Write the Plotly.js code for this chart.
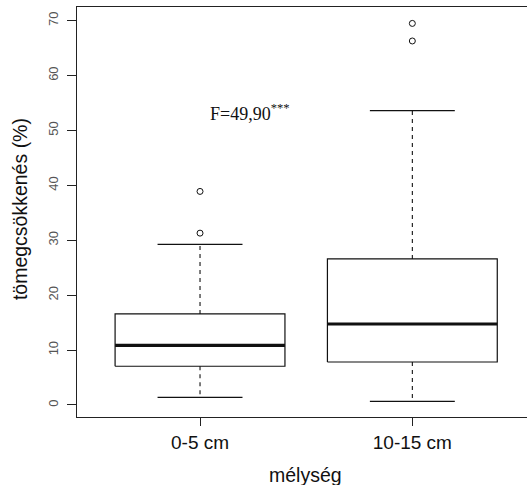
<!DOCTYPE html>
<html>
<head>
<meta charset="utf-8">
<script src="https://cdn.plot.ly/plotly-3.0.1.min.js"></script>
<style>html,body{margin:0;padding:0;background:#fff;}#chart{width:527px;height:485px;}</style>
</head>
<body>
<div id="chart"></div>
<script>
// ---- data ----
const categories = ['0-5 cm', '10-15 cm'];
const positions = [1, 2];
const q1 = [7.05, 7.83];
const medians = [10.87, 14.75];
const q3 = [16.58, 26.6];
const whiskerLow = [1.40, 0.67];
const whiskerHigh = [29.27, 53.6];
const outliers = [[31.3, 38.9], [66.3, 69.5]];
const yTicks = [0, 10, 20, 30, 40, 50, 60, 70];
const statLabel = 'F=49,90<sup>***</sup>';
const xTitle = 'mélység';
const yTitle = 'tömegcsökkenés (%)';

// ---- styles ----
const boxHalf = 0.4, capHalf = 0.2;
const ink = '#111';
const traces = [];
positions.forEach((p, i) => {
  traces.push({x: [p - boxHalf, p + boxHalf, p + boxHalf, p - boxHalf, p - boxHalf],
    y: [q1[i], q1[i], q3[i], q3[i], q1[i]], mode: 'lines',
    line: {color: ink, width: 1.2}, hoverinfo: 'skip'});
  traces.push({x: [p - boxHalf, p + boxHalf], y: [medians[i], medians[i]], mode: 'lines',
    line: {color: ink, width: 3.2}, hoverinfo: 'skip'});
  traces.push({x: [p, p, null, p, p], y: [q3[i], whiskerHigh[i], null, q1[i], whiskerLow[i]],
    mode: 'lines', line: {color: ink, width: 1.1, dash: '4px,4px'}, hoverinfo: 'skip'});
  traces.push({x: [p - capHalf, p + capHalf, null, p - capHalf, p + capHalf],
    y: [whiskerHigh[i], whiskerHigh[i], null, whiskerLow[i], whiskerLow[i]],
    mode: 'lines', line: {color: ink, width: 1.2}, hoverinfo: 'skip'});
  traces.push({x: outliers[i].map(() => p), y: outliers[i], mode: 'markers',
    marker: {symbol: 'circle-open', size: 6, color: ink, line: {width: 1}}, hoverinfo: 'skip'});
});

const layout = {
  width: 527, height: 485,
  margin: {l: 77, r: 0, t: 7, b: 68},
  paper_bgcolor: '#fff', plot_bgcolor: '#fff',
  showlegend: false,
  font: {family: 'Liberation Sans, Arial, sans-serif', color: '#111'},
  xaxis: {range: [0.4206, 2.540], tickvals: positions, ticktext: categories,
    showgrid: false, zeroline: false, showline: true, mirror: true, linecolor: '#222', linewidth: 1.2,
    ticks: 'outside', ticklen: 8, tickcolor: '#222', tickwidth: 1,
    tickfont: {size: 19, color: '#111'}, fixedrange: true},
  yaxis: {range: [-2.19, 72.49], tickvals: yTicks, ticktext: yTicks.map(String),
    showgrid: false, zeroline: false, showline: true, linecolor: '#222', linewidth: 1.2,
    ticks: 'outside', ticklen: 9, tickcolor: '#222', tickwidth: 1, tickangle: -90,
    ticklabelstandoff: 4,
    tickfont: {size: 13, color: '#555'}, fixedrange: true},
  annotations: [
    {xref: 'x', yref: 'y', x: 1.235, y: 53.2, text: statLabel, showarrow: false,
     font: {family: 'Liberation Serif, Times New Roman, serif', size: 18, color: '#111'}},
    {xref: 'paper', yref: 'paper', x: 0.507, y: -0.1415, yanchor: 'middle', xanchor: 'center',
     text: xTitle, showarrow: false, font: {size: 19.5, color: '#111'}},
    {xref: 'paper', yref: 'paper', x: -0.1267, y: 0.507, xanchor: 'center', yanchor: 'middle',
     textangle: -90, text: yTitle, showarrow: false, font: {size: 19.5, color: '#111'}}
  ]
};
Plotly.newPlot('chart', traces, layout, {displayModeBar: false, staticPlot: true});
</script>
</body>
</html>
